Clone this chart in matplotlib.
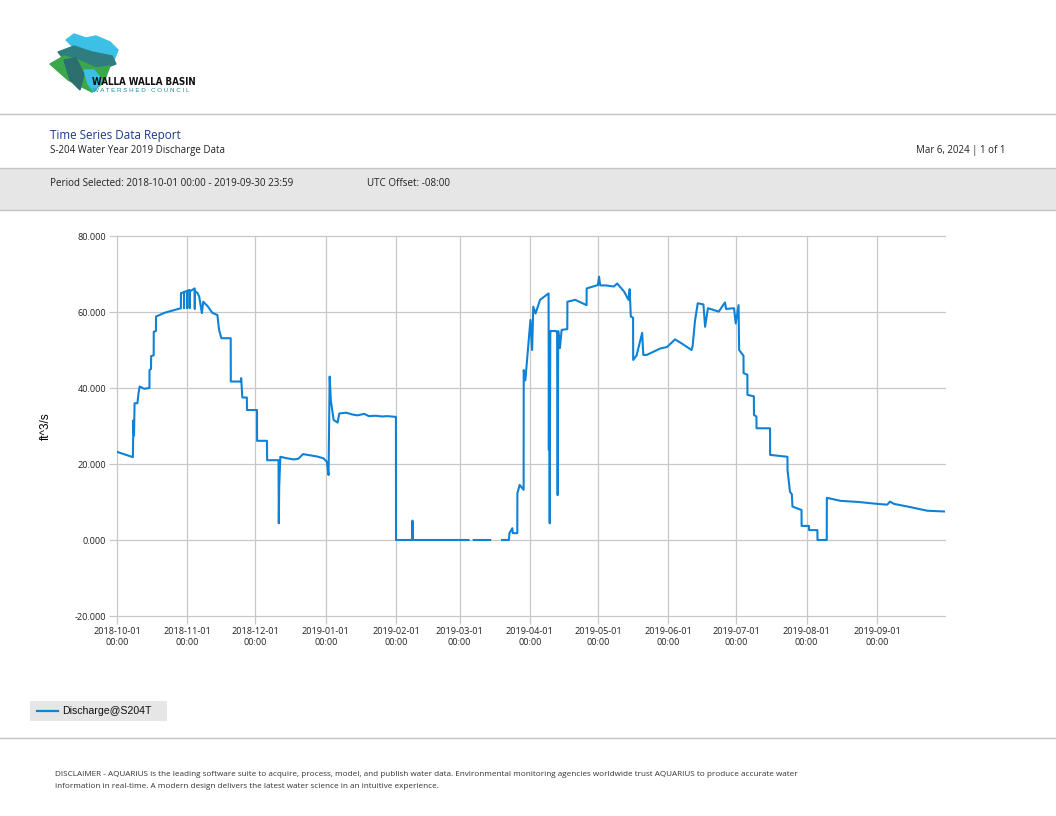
import numpy as np
import pandas as pd
import matplotlib
matplotlib.use("Agg")
import matplotlib.pyplot as plt
from matplotlib.patches import Rectangle, Polygon
from matplotlib.lines import Line2D

# ---- data (breakpoints of the discharge trace) ----
t_oct = ["2018-10-01 00:00", "2018-10-04 00:00", "2018-10-08 00:00", "2018-10-08 06:00", "2018-10-08 12:00",
         "2018-10-08 18:00", "2018-10-10 00:00", "2018-10-10 12:00", "2018-10-11 00:00", "2018-10-13 00:00",
         "2018-10-15 07:00", "2018-10-15 08:00", "2018-10-16 00:00", "2018-10-16 01:00", "2018-10-17 04:00",
         "2018-10-17 05:00", "2018-10-18 04:00", "2018-10-18 05:00", "2018-10-22 00:00", "2018-10-25 00:00",
         "2018-10-28 00:00"]
q_oct = [23.2, 22.6, 21.8, 31.5, 27.5, 36.0, 36.0, 38.7, 40.4, 39.8, 40.0, 44.7, 45.0, 48.4, 48.6,
         54.8, 55.0, 58.8, 59.8, 60.3, 60.8]

t_peak = ["2018-10-29 04:00", "2018-10-29 05:00", "2018-10-30 12:00", "2018-10-30 13:00", "2018-10-30 14:00",
          "2018-10-31 20:00", "2018-10-31 21:00", "2018-10-31 22:00", "2018-11-02 00:00", "2018-11-02 01:00",
          "2018-11-02 02:00", "2018-11-04 06:00", "2018-11-04 07:00", "2018-11-04 08:00", "2018-11-05 12:00",
          "2018-11-06 06:00", "2018-11-07 10:00", "2018-11-08 00:00", "2018-11-10 00:00", "2018-11-12 00:00",
          "2018-11-14 06:00"]
q_peak = [61.0, 65.0, 65.2, 61.0, 65.3, 65.5, 61.0, 65.6, 65.8, 61.0, 65.4, 66.2, 60.8, 65.5, 65.0,
          64.0, 59.7, 62.7, 61.5, 59.8, 59.2]

t_fall = ["2018-11-15 00:00", "2018-11-16 00:00", "2018-11-20 03:00", "2018-11-20 04:00", "2018-11-24 12:00",
          "2018-11-24 18:00", "2018-11-25 06:00", "2018-11-27 06:00", "2018-11-27 07:00", "2018-12-01 17:00",
          "2018-12-01 18:00", "2018-12-06 03:00", "2018-12-06 04:00", "2018-12-11 05:00", "2018-12-11 08:00",
          "2018-12-11 12:00", "2018-12-12 00:00", "2018-12-15 00:00", "2018-12-18 00:00", "2018-12-20 00:00",
          "2018-12-22 00:00", "2018-12-28 00:00", "2018-12-31 00:00", "2019-01-01 12:00"]
q_fall = [55.3, 53.1, 53.1, 41.7, 41.7, 42.6, 37.5, 37.5, 34.2, 34.2, 26.1, 26.1, 21.0, 21.0, 4.4,
          14.0, 21.9, 21.5, 21.2, 21.4, 22.6, 22.0, 21.5, 20.6]

t_jan = ["2019-01-02 06:00", "2019-01-02 18:00", "2019-01-03 06:00", "2019-01-04 12:00", "2019-01-06 06:00",
         "2019-01-07 00:00", "2019-01-10 00:00", "2019-01-13 00:00", "2019-01-15 00:00", "2019-01-18 00:00",
         "2019-01-20 00:00", "2019-01-23 00:00", "2019-01-26 00:00", "2019-01-28 00:00", "2019-01-31 23:00"]
q_jan = [17.1, 43.0, 36.8, 31.6, 30.9, 33.3, 33.5, 33.0, 32.8, 33.2, 32.6, 32.7, 32.5, 32.6, 32.4]

t_zero = ["2019-02-01 00:00", "2019-02-08 00:00", "2019-02-08 06:00", "2019-02-08 12:00", "2019-03-05 00:00",
          "2019-03-05 01:00", "2019-03-07 06:00", "2019-03-14 12:00", "2019-03-14 13:00", "2019-03-19 18:00",
          "2019-03-22 18:00"]
q_zero = [0.0, 0.0, 5.1, 0.0, 0.0, np.nan, 0.0, 0.0, np.nan, 0.0, 0.0]

t_spring = ["2019-03-23 00:00", "2019-03-24 06:00", "2019-03-24 12:00", "2019-03-26 11:00", "2019-03-26 12:00",
            "2019-03-27 12:00", "2019-03-29 06:00", "2019-03-29 07:00", "2019-03-30 00:00", "2019-03-30 12:00",
            "2019-04-01 06:00", "2019-04-02 00:00", "2019-04-02 12:00", "2019-04-03 12:00", "2019-04-05 12:00",
            "2019-04-09 06:00", "2019-04-09 09:00", "2019-04-09 12:00", "2019-04-09 18:00", "2019-04-10 00:00",
            "2019-04-10 06:00", "2019-04-12 12:00", "2019-04-13 00:00", "2019-04-13 06:00", "2019-04-13 12:00",
            "2019-04-14 06:00", "2019-04-15 00:00", "2019-04-17 12:00", "2019-04-17 13:00", "2019-04-21 00:00",
            "2019-04-26 00:00", "2019-04-26 01:00", "2019-05-01 00:00", "2019-05-01 12:00", "2019-05-02 00:00",
            "2019-05-04 12:00", "2019-05-08 00:00", "2019-05-09 12:00", "2019-05-12 12:00", "2019-05-14 12:00",
            "2019-05-15 00:00", "2019-05-15 12:00", "2019-05-16 12:00", "2019-05-16 13:00"]
q_spring = [1.8, 3.1, 1.8, 1.8, 12.3, 14.5, 13.2, 44.7, 42.0, 45.5, 57.9, 50.0, 61.4, 59.6, 63.2,
            64.9, 23.7, 55.0, 4.4, 54.4, 55.0, 55.0, 54.5, 11.8, 55.0, 50.5, 55.3, 55.5, 62.7, 63.2,
            61.8, 66.2, 67.1, 69.3, 67.0, 67.0, 66.7, 67.5, 65.4, 63.2, 66.0, 58.8, 58.5, 47.4]

t_summer = ["2019-05-18 00:00", "2019-05-20 12:00", "2019-05-21 00:00", "2019-05-22 12:00", "2019-05-28 12:00",
            "2019-05-31 12:00", "2019-06-04 00:00", "2019-06-07 00:00", "2019-06-11 06:00", "2019-06-11 18:00",
            "2019-06-12 18:00", "2019-06-14 00:00", "2019-06-16 12:00", "2019-06-17 06:00", "2019-06-18 12:00",
            "2019-06-23 06:00", "2019-06-26 00:00", "2019-06-26 12:00", "2019-06-30 00:00", "2019-06-30 18:00",
            "2019-07-02 00:00", "2019-07-02 06:00", "2019-07-03 12:00"]
q_summer = [48.5, 54.5, 48.7, 48.7, 50.4, 50.8, 52.8, 51.7, 50.0, 51.0, 57.5, 62.3, 62.0, 56.1, 61.0,
            60.1, 62.5, 60.8, 61.0, 57.0, 61.8, 50.0, 49.0]

t_late = ["2019-07-04 04:00", "2019-07-04 05:00", "2019-07-05 21:00", "2019-07-05 22:00", "2019-07-08 18:00",
          "2019-07-08 19:00", "2019-07-09 21:00", "2019-07-09 22:00", "2019-07-15 21:00", "2019-07-15 22:00",
          "2019-07-23 13:00", "2019-07-23 14:00", "2019-07-24 16:00", "2019-07-25 12:00", "2019-07-25 18:00",
          "2019-07-29 18:00", "2019-07-29 19:00", "2019-08-02 01:00", "2019-08-02 02:00", "2019-08-05 18:00",
          "2019-08-05 19:00", "2019-08-09 21:00", "2019-08-09 22:00", "2019-08-16 00:00", "2019-08-24 00:00",
          "2019-09-01 06:00", "2019-09-05 12:00", "2019-09-06 18:00", "2019-09-08 12:00", "2019-09-14 12:00",
          "2019-09-23 06:00", "2019-09-30 23:59"]
q_late = [48.5, 43.9, 43.5, 38.2, 37.8, 32.9, 32.5, 29.4, 29.4, 22.4, 21.9, 18.4, 12.7, 12.0, 8.8,
          7.9, 3.7, 3.7, 2.6, 2.6, 0.0, 0.0, 11.1, 10.3, 10.0, 9.5, 9.3, 10.1, 9.5, 8.8,
          7.7, 7.5]

times = t_oct + t_peak + t_fall + t_jan + t_zero + t_spring + t_summer + t_late
discharge = q_oct + q_peak + q_fall + q_jan + q_zero + q_spring + q_summer + q_late
assert len(times) == len(discharge)

month_ticks = pd.date_range("2018-10-01", "2019-09-01", freq="MS")
y_ticks = [-20, 0, 20, 40, 60, 80]

W, H = 1056, 816


def fx(px):
    return px / W


def fy(py):
    return 1 - py / H


plt.rcParams["font.family"] = ["Open Sans", "DejaVu Sans"]

fig = plt.figure(figsize=(W / 100, H / 100), dpi=100)
fig.patch.set_facecolor("white")

# ---- header ----
# logo (simplified shapes)
lax = fig.add_axes([fx(44), fy(98), fx(84), 68 / H])
lax.set_xlim(0, 84)
lax.set_ylim(68, 0)
lax.axis("off")
lax.add_patch(Polygon([[22, 10], [30, 4], [42, 8], [52, 6], [66, 12], [74, 20], [70, 30], [56, 30], [34, 22]],
                      closed=True, color="#3cc0e6"))
lax.add_patch(Polygon([[14, 22], [30, 16], [48, 22], [68, 26], [72, 34], [56, 40], [36, 34], [22, 32]],
                      closed=True, color="#2f7d80"))
lax.add_patch(Polygon([[6, 34], [20, 26], [34, 30], [52, 38], [66, 36], [60, 52], [48, 62], [36, 56], [24, 50]],
                      closed=True, color="#3aa84a"))
lax.add_patch(Polygon([[20, 30], [32, 28], [40, 44], [36, 60], [26, 50]], closed=True, color="#2b6f6f"))
lax.add_patch(Polygon([[40, 40], [50, 40], [58, 50], [50, 62], [44, 54]], closed=True, color="#3cc0e6"))
fig.text(fx(92), fy(85), "WALLA WALLA BASIN", fontsize=7.0, fontweight="bold", fontstretch="condensed",
         family=["DejaVu Sans"], color="#111111", va="baseline")
fig.text(fx(93), fy(92), "W A T E R S H E D   C O U N C I L", fontsize=4.5, color="#1f8a96",
         family=["Liberation Sans", "DejaVu Sans"], va="baseline")

fig.add_artist(Line2D([0, 1], [fy(114), fy(114)], color="#c4c4c4", lw=1))
fig.text(fx(50), fy(139), "Time Series Data Report", fontsize=8.4, color="#1c3a8a", va="baseline")
fig.text(fx(50), fy(153), "S-204 Water Year 2019 Discharge Data", fontsize=7.0, color="#222222", va="baseline")
fig.text(fx(1006), fy(153), "Mar 6, 2024 | 1 of 1", fontsize=7.0, color="#222222", va="baseline", ha="right")

fig.add_artist(Rectangle((0, fy(210)), 1, (210 - 168) / H, facecolor="#e6e6e6",
                         edgecolor="none", transform=fig.transFigure))
fig.add_artist(Line2D([0, 1], [fy(168), fy(168)], color="#c4c4c4", lw=1))
fig.add_artist(Line2D([0, 1], [fy(210), fy(210)], color="#c4c4c4", lw=1))
fig.text(fx(50), fy(186), "Period Selected: 2018-10-01 00:00 - 2019-09-30 23:59", fontsize=7.1,
         color="#222222", va="baseline")
fig.text(fx(367), fy(186), "UTC Offset: -08:00", fontsize=7.1, color="#222222", va="baseline")

# ---- chart ----
ax = fig.add_axes([fx(117), fy(616), fx(945 - 117), (616 - 236) / H])
ax.plot(pd.to_datetime(times), discharge, color="#0f82d6", lw=1.5)

ax.set_xlim(pd.Timestamp("2018-10-01"), pd.Timestamp("2019-10-01"))
ax.set_ylim(-20, 80)
ax.set_xticks(month_ticks)
ax.set_xticklabels([d.strftime("%Y-%m-%d") + "\n00:00" for d in month_ticks])
ax.set_yticks(y_ticks)
ax.set_yticklabels(["%.3f" % v for v in y_ticks])
ax.grid(True, color="#c8c8c8", lw=0.9)
for gl in ax.get_xgridlines() + ax.get_ygridlines():
    gl.set_clip_on(False)
ax.set_axisbelow(True)
for s in ax.spines.values():
    s.set_visible(False)
ax.tick_params(axis="both", length=6, color="#c8c8c8", width=0.9, labelsize=6.6, labelcolor="#222222", pad=2)
ax.set_ylabel("ft^3/s", fontsize=8.5, labelpad=16, family=["Liberation Sans", "DejaVu Sans"])

# ---- legend ----
fig.add_artist(Rectangle((fx(30), fy(721)), fx(167 - 30), 20 / H, facecolor="#e6e6e6",
                         edgecolor="none", transform=fig.transFigure))
fig.add_artist(Line2D([fx(37), fx(58)], [fy(711), fy(711)], color="#0f82d6", lw=1.6))
fig.text(fx(62), fy(711), "Discharge@S204T", fontsize=7.6, va="center",
         family=["Liberation Sans", "DejaVu Sans"], color="#111111")

# ---- footer ----
fig.add_artist(Line2D([0, 1], [fy(738), fy(738)], color="#c4c4c4", lw=1))
fig.text(fx(55), fy(776),
         "DISCLAIMER - AQUARIUS is the leading software suite to acquire, process, model, and publish water data. "
         "Environmental monitoring agencies worldwide trust AQUARIUS to produce accurate water",
         fontsize=5.9, color="#333333", va="baseline")
fig.text(fx(55), fy(788),
         "information in real-time. A modern design delivers the latest water science in an intuitive experience.",
         fontsize=5.9, color="#333333", va="baseline")

fig.savefig("out.png", dpi=100)
